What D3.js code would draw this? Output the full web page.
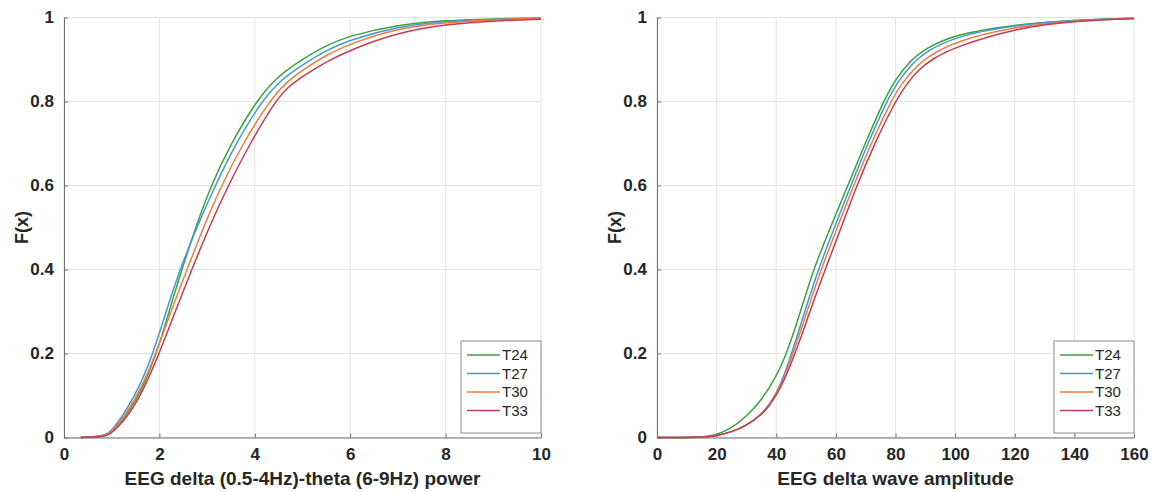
<!DOCTYPE html>
<html>
<head>
<meta charset="utf-8">
<script src="https://cdn.jsdelivr.net/npm/d3@7"></script>
<style>
  body { margin: 0; background: #fff; }
  svg { display: block; }
</style>
</head>
<body>
<script>
// series names and colours (legend order)
const seriesNames = ["T24", "T27", "T30", "T33"]
const seriesColors = ["#3ba23b", "#3f98dc", "#f27b3e", "#c63a55"]

const yTicks = [0, 0.2, 0.4, 0.6, 0.8, 1]
const yLabel = "F(x)"

// left panel: delta-theta power, [x, F(x)]
const leftXTicks = [0, 2, 4, 6, 8, 10]
const leftXLabel = "EEG delta (0.5-4Hz)-theta (6-9Hz) power"
const leftT24 = [[0.35, 0], [0.84, 0.003], [1, 0.01], [1.5, 0.078], [1.95, 0.2], [2.2, 0.3], [2.47, 0.4], [2.76, 0.5], [3.08, 0.6], [3.5, 0.7], [4.05, 0.805], [4.5, 0.862], [4.95, 0.897], [5.5, 0.934], [6, 0.957], [7, 0.983], [8, 0.993], [9, 0.997], [10, 0.999]]
const leftT27 = [[0.35, 0], [0.84, 0.004], [1, 0.013], [1.5, 0.098], [1.87, 0.2], [2.14, 0.3], [2.43, 0.4], [2.78, 0.5], [3.17, 0.6], [3.6, 0.7], [4.15, 0.802], [4.55, 0.852], [5, 0.887], [5.5, 0.922], [6, 0.947], [7, 0.979], [8, 0.991], [9, 0.996], [10, 0.998]]
const leftT30 = [[0.35, 0], [0.84, 0.003], [1, 0.01], [1.5, 0.086], [1.93, 0.2], [2.24, 0.3], [2.58, 0.4], [2.92, 0.5], [3.3, 0.6], [3.75, 0.7], [4.3, 0.8], [4.65, 0.845], [5, 0.875], [5.5, 0.911], [6, 0.938], [7, 0.975], [8, 0.988], [9, 0.995], [10, 0.998]]
const leftT33 = [[0.35, 0], [0.84, 0.002], [1, 0.008], [1.5, 0.07], [2.0, 0.2], [2.33, 0.3], [2.68, 0.4], [3.04, 0.5], [3.44, 0.6], [3.9, 0.7], [4.42, 0.8], [4.7, 0.835], [5, 0.86], [5.5, 0.895], [6, 0.923], [7, 0.964], [8, 0.984], [9, 0.992], [10, 0.996]]

// right panel: delta wave amplitude
const rightXTicks = [0, 20, 40, 60, 80, 100, 120, 140, 160]
const rightXLabel = "EEG delta wave amplitude"
const rightT24 = [[0, 0], [15, 0], [20, 0.006], [25, 0.022], [30, 0.05], [35, 0.088], [40, 0.145], [43, 0.192], [46, 0.252], [49, 0.32], [52.5, 0.4], [58, 0.497], [64, 0.6], [70, 0.703], [75.8, 0.798], [80, 0.853], [85, 0.898], [90, 0.926], [100, 0.96], [120, 0.983], [140, 0.994], [160, 0.998]]
const rightT27 = [[0, 0], [15, 0], [20, 0.004], [25, 0.013], [30, 0.028], [35, 0.055], [37.5, 0.077], [40, 0.105], [42.5, 0.145], [45, 0.197], [47.5, 0.252], [50, 0.31], [54.1, 0.4], [59.5, 0.5], [65, 0.6], [70.7, 0.7], [76.8, 0.797], [81, 0.85], [86, 0.893], [90, 0.918], [100, 0.955], [120, 0.982], [140, 0.994], [160, 0.998]]
const rightT30 = [[0, 0], [15, 0], [20, 0.004], [25, 0.013], [30, 0.028], [35, 0.055], [37.5, 0.076], [40, 0.103], [42.5, 0.14], [45, 0.188], [48.3, 0.256], [51, 0.315], [55, 0.4], [60.5, 0.5], [65.9, 0.6], [71.8, 0.7], [78.2, 0.797], [82, 0.843], [87, 0.883], [90, 0.903], [100, 0.944], [120, 0.978], [140, 0.993], [160, 0.998]]
const rightT33 = [[0, 0], [15, 0], [20, 0.004], [25, 0.013], [30, 0.028], [35, 0.054], [37.5, 0.074], [40, 0.1], [42.5, 0.134], [45, 0.176], [49.2, 0.256], [52, 0.315], [56.4, 0.4], [61.8, 0.5], [67, 0.6], [73, 0.7], [79.5, 0.795], [84, 0.845], [88, 0.877], [92, 0.9], [100, 0.93], [120, 0.974], [140, 0.992], [160, 0.997]]

const W = 1156, H = 492

let svg = d3.select("body")
    .append("svg")
    .attr("width", W)
    .attr("height", H)
    .style("font-family", "'Liberation Sans', Arial, sans-serif")

drawPanel({
    left: 64, right: 541,
    xDomain: [0, 10], xTicks: leftXTicks, xLabel: leftXLabel,
    series: [leftT24, leftT27, leftT30, leftT33]
})
drawPanel({
    left: 657, right: 1134,
    xDomain: [0, 160], xTicks: rightXTicks, xLabel: rightXLabel,
    series: [rightT24, rightT27, rightT30, rightT33]
})

function drawPanel(p) {
    let top = 17.5, bottom = 437.5
    let x = d3.scaleLinear().domain(p.xDomain).range([p.left, p.right])
    let y = d3.scaleLinear().domain([0, 1]).range([bottom, top])
    let g = svg.append("g")

    // grid
    g.append("g").selectAll("line")
        .data(p.xTicks)
        .enter()
        .append("line")
            .attr("x1", d => x(d)).attr("x2", d => x(d))
            .attr("y1", top).attr("y2", bottom)
            .style("stroke", "#e3e3e3")
    g.append("g").selectAll("line")
        .data(yTicks)
        .enter()
        .append("line")
            .attr("x1", p.left).attr("x2", p.right)
            .attr("y1", d => y(d)).attr("y2", d => y(d))
            .style("stroke", "#e3e3e3")

    // axes, ticks inward like matlab
    let xAxis = g.append("g")
        .attr("transform", `translate(0,${bottom})`)
        .call(d3.axisBottom(x).tickValues(p.xTicks).tickSizeInner(-4).tickSizeOuter(0).tickPadding(10))
    let yAxis = g.append("g")
        .attr("transform", `translate(${p.left},0)`)
        .call(d3.axisLeft(y).tickValues(yTicks).tickFormat(d3.format("~g")).tickSizeInner(-4).tickSizeOuter(0).tickPadding(10))
    ;[xAxis, yAxis].forEach(a => {
        a.select(".domain").style("stroke", "#707070")
        a.selectAll(".tick line").style("stroke", "#707070")
        a.selectAll("text")
            .style("font-size", "17px")
            .style("font-weight", "bold")
            .style("fill", "#262626")
            .style("font-family", "'Liberation Sans', Arial, sans-serif")
    })

    // axis labels
    g.append("text")
        .text(p.xLabel)
        .attr("x", (p.left + p.right) / 2)
        .attr("y", 485)
        .attr("text-anchor", "middle")
        .style("font-size", "19px")
        .style("font-weight", "bold")
        .style("fill", "#262626")
    g.append("text")
        .text(yLabel)
        .attr("transform", `translate(${p.left - 36},${(top + bottom) / 2}) rotate(-90)`)
        .attr("text-anchor", "middle")
        .style("font-size", "18px")
        .style("font-weight", "bold")
        .style("fill", "#262626")

    // curves
    let line = d3.line()
        .x(d => x(d[0]))
        .y(d => y(d[1]))
        .curve(d3.curveBasis)
    g.append("g").selectAll("path")
        .data(p.series)
        .enter()
        .append("path")
            .attr("d", line)
            .style("fill", "none")
            .style("stroke", (d, i) => seriesColors[i])
            .style("stroke-width", 1.5)

    // legend, south-east corner
    let lx = p.right - 80, ly = 341
    let lg = g.append("g").attr("transform", `translate(${lx},${ly})`)
    lg.append("rect")
        .attr("width", 80).attr("height", 92)
        .style("fill", "#fff")
        .style("stroke", "#8a8a8a")
    let rows = lg.selectAll("g.row")
        .data(seriesNames)
        .enter()
        .append("g").attr("class", "row")
        .attr("transform", (d, i) => `translate(0,${14 + i * 18.5})`)
    rows.append("line")
        .attr("x1", 6).attr("x2", 39)
        .style("stroke", (d, i) => seriesColors[i])
        .style("stroke-width", 1.5)
    rows.append("text")
        .text(d => d)
        .attr("x", 41)
        .attr("dy", "0.36em")
        .style("font-size", "15px")
        .style("fill", "#262626")
}
</script>
</body>
</html>
